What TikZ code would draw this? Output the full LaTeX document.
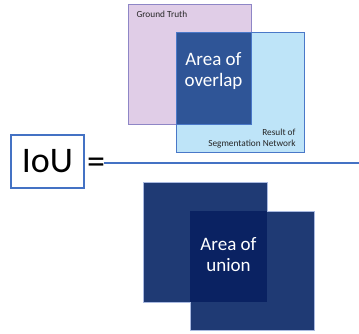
\documentclass[tikz,border=0pt]{standalone}
\usepackage{fontspec}
\setmainfont{Carlito}
\definecolor{gtfill}{HTML}{E0CDE7}
\definecolor{gtdraw}{HTML}{8E86C6}
\definecolor{segfill}{HTML}{BEE4F8}
\definecolor{segdraw}{HTML}{4A78C8}
\definecolor{ovfill}{HTML}{2F5597}
\definecolor{unfill}{HTML}{1F3A74}
\definecolor{undraw}{HTML}{A9B9E0}
\definecolor{unov}{HTML}{0A2262}
\definecolor{ioublue}{HTML}{4472C4}
\begin{document}
\begin{tikzpicture}[x=1pt,y=-1pt,
  region/.style={line width=0.8pt},
  bigtxt/.style={text=white,font=\fontsize{19}{21}\selectfont,align=center},
  smalltxt/.style={font=\fontsize{9.3}{11.5}\selectfont,text=black!85}]
\useasboundingbox (0,0) rectangle (359,333);
% top: overlap
\filldraw[region,fill=gtfill,draw=gtdraw] (128,4) rectangle (251,124);
\filldraw[region,fill=segfill,draw=segdraw] (176,32) rectangle (304,152);
\fill[ovfill] (176,32) rectangle (251,124);
\draw[region,draw=segdraw] (176,32) rectangle (251,124);
\node[smalltxt,anchor=west] (gt) at (133,14.5) {Ground Truth};
\node[smalltxt,anchor=east,align=right] (seg) at (299,138.5) {Result of\\Segmentation Network};
\node[bigtxt] (ov) at (213.5,71) {Area of\\overlap};
% IoU
\node[minimum width=72pt,minimum height=52pt,inner sep=0pt,text=black,font=\fontsize{36}{36}\selectfont] (iou) at (47.5,161.5) {IoU};
\draw[color=ioublue,line width=1.8pt] (iou.south west) rectangle (iou.north east);
\node[font=\fontsize{36}{36}\selectfont,inner sep=0pt,anchor=base west] (eq) at (87,173.5) {=};
\coordinate (lineend) at (359,163);
\draw[ioublue,line width=2pt] (eq.east |- lineend) ++(-1,0) coordinate (linestart) -- (lineend);
% bottom: union
\filldraw[line width=0.6pt,fill=unfill,draw=undraw] (143,182) rectangle (267,302);
\filldraw[line width=0.6pt,fill=unfill,draw=undraw] (190,211) rectangle (314,330);
\fill[unov] (190,211) rectangle (267,302);
\node[bigtxt] (un) at (228.5,255) {Area of\\union};
\end{tikzpicture}
\end{document}
